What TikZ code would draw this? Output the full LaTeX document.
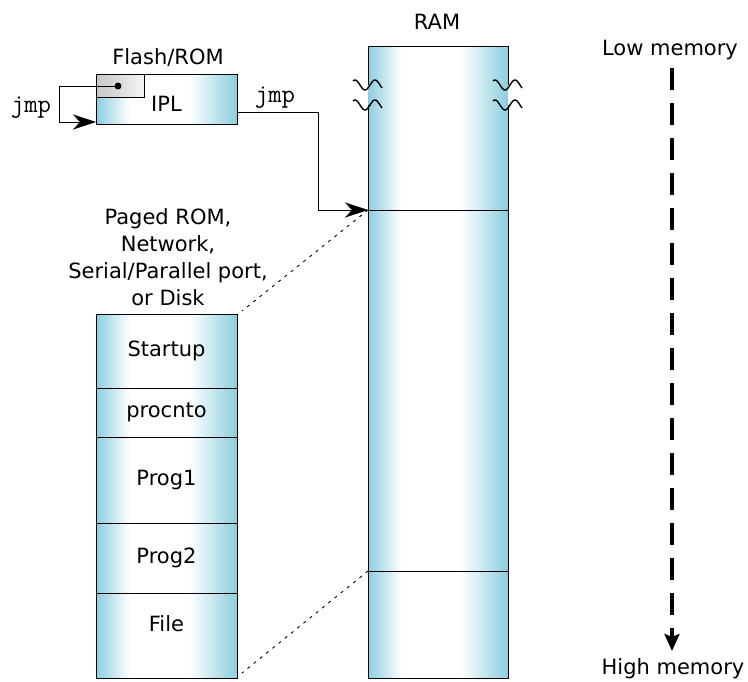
\documentclass[tikz,border=0pt]{standalone}
\usepackage{fontspec}
\setmainfont{DejaVu Sans}
\usetikzlibrary{positioning}
\usetikzlibrary{arrows.meta}

\definecolor{memblue}{RGB}{140,206,222}
\pgfdeclarehorizontalshading{memshade}{100bp}{color(0bp)=(memblue); color(25bp)=(memblue); color(37bp)=(white); color(58bp)=(white); color(75bp)=(memblue); color(100bp)=(memblue)}
\pgfdeclarehorizontalshading{romshade}{100bp}{color(0bp)=(gray!45); color(25bp)=(gray!45); color(75bp)=(gray!8); color(100bp)=(gray!8)}
\newcommand{\memfont}{\fontsize{21}{27}\selectfont}
\newcommand{\jmpfont}{\fontsize{26}{28}\selectfont\ttfamily}

\tikzset{
  seg/.style={draw,shading=memshade,minimum width=141pt,inner sep=0pt,outer sep=0pt,font=\memfont},
  jmparrow/.style={-{Stealth[length=23pt,width=15pt,inset=7pt]}},
  brk/.pic={\draw[line width=1.4pt,domain=-15:14,samples=30,smooth] plot (\x,{5*sin((\x+8)*18)});}
}

\begin{document}
\begin{tikzpicture}[x=1pt,y=-1pt]
	\useasboundingbox (0,0) rectangle (748,681);

	% RAM
	\node[font=\memfont] (ramlbl) at (437,22) {RAM};
	\node[seg,draw=none,minimum width=140pt,minimum height=632pt] (ram) at (438,362) {};
	\coordinate (brka) at (0,85);
	\coordinate (brkb) at (0,105);
	\draw (ram.west |- brka) -- (ram.north west) -- (ram.north east) -- (ram.east |- brka);
	\draw (ram.west |- brkb) -- (ram.south west) -- (ram.south east) -- (ram.east |- brkb);
	\pic at (ram.west |- brka) {brk};
	\pic at (ram.west |- brkb) {brk};
	\pic at (ram.east |- brka) {brk};
	\pic at (ram.east |- brkb) {brk};
	\coordinate (ramtop) at (368,210);
	\coordinate (rambot) at (368,571);
	\draw (ramtop) -- (ramtop -| ram.east);
	\draw (rambot) -- (rambot -| ram.east);

	% Flash/ROM with IPL
	\node[font=\memfont] (flashlbl) at (168,57) {Flash/ROM};
	\node[seg,minimum height=50pt] (ipl) at (166.5,99) {};
	\node[draw,shading=romshade,minimum width=48pt,minimum height=23pt,inner sep=0pt,outer sep=0pt,anchor=north west] (vec) at (ipl.north west) {};
	\node[font=\memfont] (ipltxt) at ([yshift=-5pt]ipl.center) {IPL};
	\node[circle,fill,inner sep=0pt,minimum size=7pt] (dot) at (118,86) {};
	\coordinate (loopx) at (59,0);
	\coordinate (jmpin) at (96,122);
	\draw[jmparrow] (dot.center) -| (loopx |- jmpin) -- (jmpin);
	\node[font=\jmpfont] (jmpa) at (31,108) {jmp};

	\coordinate (iplout) at (237,112);
	\draw[jmparrow] (iplout) -| ([xshift=-50pt]ramtop) -- (ramtop);
	\node[font=\jmpfont] (jmpb) at (275,98) {jmp};

	% image source
	\node[font=\memfont,align=center] (src) at (168,257) {Paged ROM,\\Network,\\Serial/Parallel port,\\or Disk};
	\node[seg,minimum height=74pt] (startup) at (166.5,351) {Startup};
	\node[seg,minimum height=49pt,below=0pt of startup] (procnto) {procnto};
	\node[seg,minimum height=86pt,below=0pt of procnto] (prog1) {Prog1};
	\node[seg,minimum height=70pt,below=0pt of prog1] (prog2) {Prog2};
	\node[seg,minimum height=85pt,below=0pt of prog2] (file) {};
	\node[font=\memfont] (filetxt) at ([yshift=12pt]file.center) {File};
	\draw[line width=0.9pt,dash pattern=on 3pt off 5pt] (ramtop) -- ([xshift=5pt,yshift=3pt]startup.north east);
	\draw[line width=0.9pt,dash pattern=on 3pt off 5pt] (rambot) -- ([xshift=5pt,yshift=5pt]file.south east);

	% memory direction
	\node[font=\memfont] (low) at (670,50) {Low memory};
	\node[font=\memfont] (high) at (673,669) {High memory};
	\coordinate (memtop) at (672,68);
	\coordinate (membot) at (672,651);
	\draw[line width=4pt,dash pattern=on 22pt off 13pt,-{Stealth[length=17pt,width=15pt,inset=3pt]}] (memtop) -- (membot);
\end{tikzpicture}
\end{document}
